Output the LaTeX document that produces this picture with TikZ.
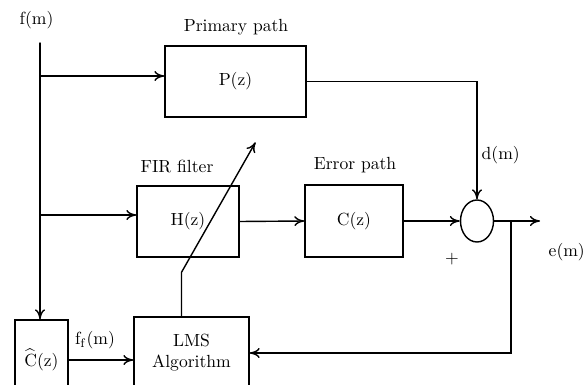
\documentclass[tikz,border=0pt]{standalone}
\usetikzlibrary{arrows.meta,shapes.geometric}
\begin{document}
\begin{tikzpicture}[x=0.02cm,y=-0.02cm,>={To[length=2mm,width=2mm]},font=\normalsize,line cap=round,thick,
  blk/.style={draw,rectangle,inner sep=0pt}]
\useasboundingbox (0,0) rectangle (585,385);
\clip (0,0) rectangle (585,385);
% blocks
\node[blk,minimum width=2.82cm,minimum height=1.42cm] (prim) at (235.5,81.5) {P(z)};
\node[blk,minimum width=2.04cm,minimum height=1.42cm] (fir) at (188,221.5) {H(z)};
\node[blk,minimum width=1.96cm,minimum height=1.44cm] (err) at (354,221) {C(z)};
\node[draw,ellipse,inner sep=0pt,minimum width=0.66cm,minimum height=0.84cm] (sum) at (477,221) {};
\node[blk,minimum width=2.3cm,minimum height=1.44cm,align=center] (lms) at (191.5,353) {LMS\\Algorithm};
\node[blk,minimum width=1.06cm,minimum height=1.6cm] (chat) at (41.5,360) {$\widehat{\mathrm{C}}$(z)};
% labels
\node[anchor=west,inner sep=0pt] (fm) at (19,20) {f(m)};
\node (lprim) at (236,27) {Primary path};
\node (lfir) at (177,167) {FIR filter};
\node (lerr) at (355,165) {Error path};
\node[anchor=west,inner sep=0pt] (ldm) at (481,155) {d(m)};
\node[anchor=west,inner sep=0pt] (lem) at (548,252) {e(m)};
\node (lff) at (95,340) {f$_{\mathrm f}$(m)};
\node (lplus) at (452,259) {+};
% connectors
\coordinate (src) at (40,43);
\coordinate (b1) at (40,76);
\coordinate (b2) at (40,215);
\draw[->] (src) -- (src |- chat.north);
\draw[->] (b1) -- (b1 -| prim.west);
\draw[->] (b2) -- (b2 -| fir.west);
\draw[->] (fir.east) -- (err.west);
\draw[->] (err.east) -- (sum.west);
\draw[->] (prim.east) -| (sum.north);
\draw[->] (sum.east) -- (540,221) coordinate (out);
\coordinate (fb) at (511,221);
\draw[->] (fb) |- (lms.east);
\draw[->] (chat.east) -- (chat.east -| lms.west);
\draw[->] ([xshift=-0.2cm]lms.north) -- ++(0,-44) -- ++(74,-130);
\end{tikzpicture}
\end{document}
